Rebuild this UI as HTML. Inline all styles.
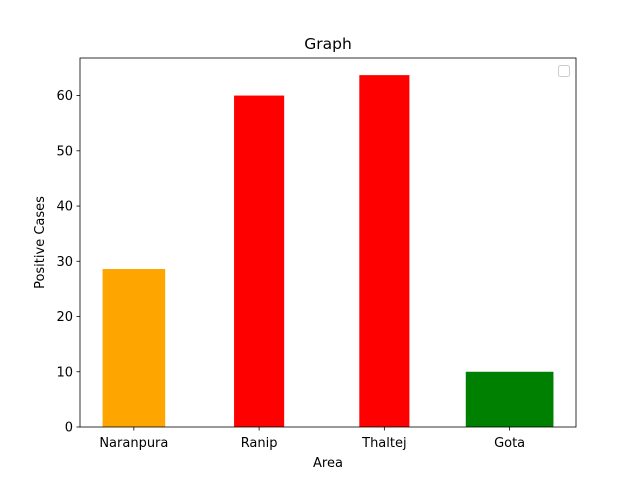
<!DOCTYPE html>
<html><head><meta charset="utf-8"><style>
body{margin:0;background:#fff}
svg text{font-family:"DejaVu Sans","Liberation Sans",sans-serif;fill:#000}
</style></head><body>
<svg id="chart" width="640" height="480" xmlns="http://www.w3.org/2000/svg">
<rect width="640" height="480" fill="#fff"/>
</svg>
<script>
const categories=["Naranpura","Ranip","Thaltej","Gota"];
const values=[28.6,60,63.7,10];
const widths=[0.5,0.4,0.4,0.7];
const colors=["orange","red","red","green"];
const yTicks=[0,10,20,30,40,50,60];
const NS="http://www.w3.org/2000/svg";
const svg=document.getElementById('chart');
const L=80,R=576,T=58,B=427;
const xmin=-0.43,xmax=3.53,ymax=66.8;
const sx=v=>L+(v-xmin)/(xmax-xmin)*(R-L);
const sy=v=>B-v/ymax*(B-T);
function mk(tag,attrs,txt){const e=document.createElementNS(NS,tag);for(const k in attrs)e.setAttribute(k,attrs[k]);if(txt!==undefined)e.textContent=txt;svg.appendChild(e);return e;}
categories.forEach((c,i)=>{
 const r=mk('rect',{x:sx(i-widths[i]/2),y:sy(values[i]),width:sx(i+widths[i]/2)-sx(i-widths[i]/2),height:sy(0)-sy(values[i]),fill:colors[i]});
 
 
 mk('line',{x1:sx(i),x2:sx(i),y1:B,y2:B+3.5,stroke:'#000','stroke-width':0.8});
 const t=mk('text',{x:sx(i),y:B+20,'text-anchor':'middle','font-size':'13px'},c);
 
 
});
yTicks.forEach(v=>{
 mk('line',{x1:L-3.5,x2:L,y1:sy(v),y2:sy(v),stroke:'#000','stroke-width':0.8});
 const t=mk('text',{x:L-7,y:sy(v)+4.5,'text-anchor':'end','font-size':'13px'},v);
 
 
});
const f=mk('rect',{x:L,y:T,width:R-L,height:B-T,fill:'none',stroke:'#000','stroke-width':0.8});


const lg=mk('rect',{x:558.5,y:65.5,width:11,height:11,rx:2,fill:'#fff',stroke:'#ccc','stroke-width':1});


const ti=mk('text',{x:(L+R)/2,y:49,'text-anchor':'middle','font-size':'15.5px'},'Graph');


const xt=mk('text',{x:(L+R)/2,y:467,'text-anchor':'middle','font-size':'13px'},'Area');


const yt=mk('text',{x:44,y:(T+B)/2,'text-anchor':'middle','font-size':'13px',transform:'rotate(-90 44 '+((T+B)/2)+')'},'Positive Cases');


</script>
</body></html>
